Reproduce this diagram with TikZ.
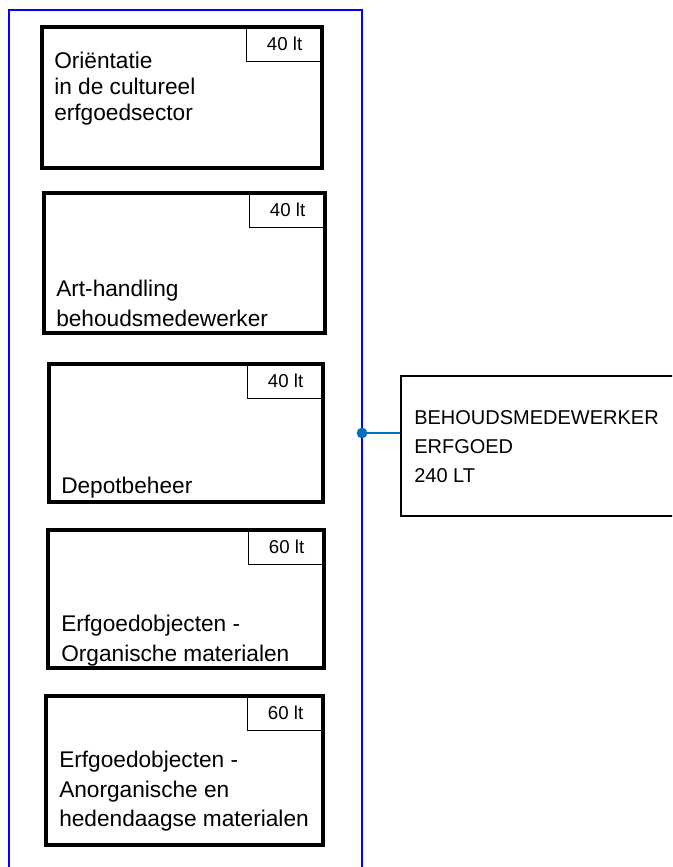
\documentclass[tikz,border=0pt]{standalone}
\usepackage{fontspec}
\setmainfont{Liberation Sans}
\usetikzlibrary{positioning}

\definecolor{lanebl}{RGB}{0,0,255}
\definecolor{linkbl}{RGB}{0,112,192}

\tikzset{
  module/.style 2 args={draw, line width=2.4pt, minimum width=#1, minimum height=#2, inner sep=0pt},
  hours/.style={draw, line width=0.8pt, minimum width=57.75pt, minimum height=27pt, inner sep=0pt,
    anchor=north east, font=\fontsize{14}{16}\selectfont},
  mtext/.style={anchor=north west, inner sep=0pt, align=left, font=\fontsize{17}{22}\selectfont},
}

\begin{document}
\begin{tikzpicture}[x=0.75pt, y=-0.75pt]
                \useasboundingbox (0,0) rectangle (672,867);
                \clip (0,0) rectangle (672,867);
                % swimlane
                \node[draw=lanebl, line width=1pt, minimum width=264.75pt, minimum height=652.5pt] (lane) at (185.5,445) {};
                % modules
                \node[module={210pt}{105.75pt}] (m1) at (182,97.5) {};
                \node[module={210.75pt}{105pt}] (m2) at (184.5,263) {};
                \node[module={205.5pt}{103.5pt}] (m3) at (186,433) {};
                \node[module={207pt}{103.5pt}] (m4) at (186,599) {};
                \node[module={207.75pt}{111.75pt}] (m5) at (184.5,770.5) {};
                \node[hours] (h1) at (m1.north east) {40 lt};
                \node[hours] (h2) at (m2.north east) {40 lt};
                \node[hours] (h3) at (m3.north east) {40 lt};
                \node[hours] (h4) at (m4.north east) {60 lt};
                \node[hours] (h5) at (m5.north east) {60 lt};
                \node[mtext, font=\fontsize{17}{19.5}\selectfont] (t1) at (54,52) {Oriëntatie\\in de cultureel\\erfgoedsector};
                \node[mtext] (t2) at (56,280) {Art-handling\\behoudsmedewerker};
                \node[mtext] (t3) at (61,477) {Depotbeheer};
                \node[mtext] (t4) at (61,615) {Erfgoedobjecten -\\Organische materialen};
                \node[mtext] (t5) at (59,751) {Erfgoedobjecten -\\Anorganische en\\hedendaagse materialen};
                % profiel
                \node[draw, line width=0.8pt, minimum width=216.75pt, minimum height=105pt] (role) at (545.5,446) {};
                \node[mtext, font=\fontsize{15}{21.75}\selectfont] (rtext) at (414,410) {BEHOUDSMEDEWERKER\\ERFGOED\\240 LT};
                \coordinate (dot) at (362,433);
                \draw[linkbl, line width=1pt] (dot) -- (dot -| role.west);
                \fill[linkbl] (dot) circle[radius=4pt];
            \end{tikzpicture}
\end{document}
